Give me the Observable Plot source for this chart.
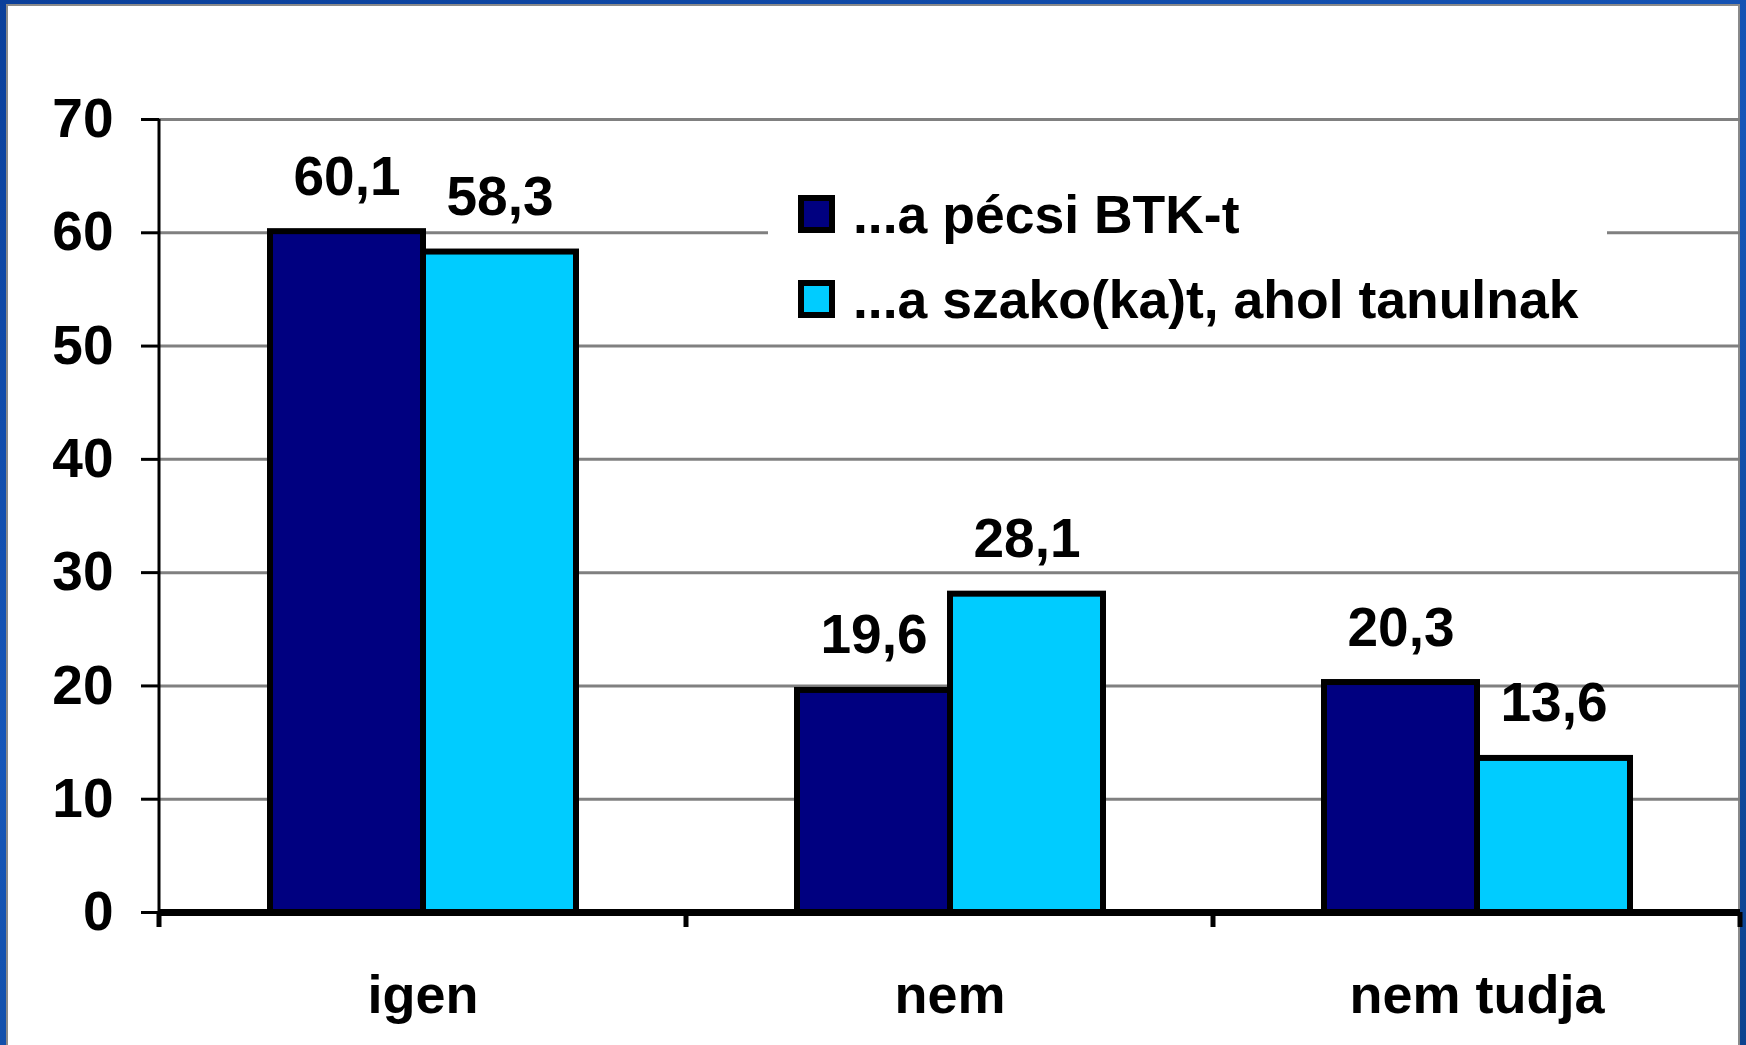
<!DOCTYPE html>
<html>
<head>
<meta charset="utf-8">
<script src="https://cdn.jsdelivr.net/npm/d3@7"></script>
<script src="https://cdn.jsdelivr.net/npm/@observablehq/plot@0.6"></script>
<style>
  html, body { margin: 0; padding: 0; width: 1746px; height: 1045px; overflow: hidden; }
  body { background: linear-gradient(160deg, #0a3f9a 0%, #1656b8 45%, #0c438f 100%); position: relative; font-family: "Liberation Sans", Arial, sans-serif; }
  #panel { position: absolute; left: 6px; top: 4px; width: 1734px; height: 1080px; background: #fff; border: 2px solid #8a8a8a; border-bottom: none; box-sizing: border-box; }
  #chart { position: absolute; left: 0; top: 0; }
  #legend { position: absolute; left: 768px; top: 160px; width: 839px; height: 172px; background: #fff; }
  .row { position: absolute; left: 0; height: 53px; }
  .sw { position: absolute; left: 30px; width: 37px; height: 38px; border: 6px solid #000; box-sizing: border-box; }
  .lt { position: absolute; left: 85px; white-space: nowrap; font: bold 53.5px/53px "Liberation Sans", Arial, sans-serif; color: #000; }
</style>
</head>
<body>
<div id="panel"></div>
<div id="chart"></div>
<div id="legend"></div>
<script>
const categories = ["igen", "nem", "nem tudja"];
const seriesNames = ["...a pécsi BTK-t", "...a szako(ka)t, ahol tanulnak"];
const btkValues = [60.1, 19.6, 20.3];
const szakValues = [58.3, 28.1, 13.6];
const seriesColors = ["#000080", "#00ccff"];
const yTicks = [0, 10, 20, 30, 40, 50, 60, 70];

const data = [];
categories.forEach((c, i) => {
  data.push({category: c, series: seriesNames[0], value: btkValues[i]});
  data.push({category: c, series: seriesNames[1], value: szakValues[i]});
});
const fmt = v => v.toFixed(1).replace(".", ",");

const plot = Plot.plot({
  width: 1746,
  height: 1045,
  marginLeft: 158,
  marginRight: 6,
  marginTop: 119,
  marginBottom: 133,
  style: {background: "transparent", fontFamily: "'Liberation Sans', Arial, sans-serif", fontWeight: "bold", color: "#000"},
  fx: {domain: categories, padding: 0, axis: null},
  x: {domain: seriesNames, paddingInner: 0, paddingOuter: 0.72, axis: null},
  y: {domain: [0, 70], axis: null},
  color: {domain: seriesNames, range: seriesColors},
  marks: [
    Plot.gridY(yTicks.filter(d => d > 0), {stroke: "#808080", strokeOpacity: 1, strokeWidth: 3}),
    Plot.barY(data, {fx: "category", x: "series", y: "value", fill: "series", stroke: "#000", strokeWidth: 6}),
    Plot.text(data, {fx: "category", x: "series", y: "value", text: d => fmt(d.value), lineAnchor: "bottom", dy: -37, fontSize: 55, fontWeight: "bold", fill: "#000"}),
    Plot.ruleY([0], {stroke: "#000", strokeWidth: 7}),
    Plot.axisY(yTicks, {tickSize: 18, tickPadding: 28, strokeWidth: 3, stroke: "#000", fontSize: 55, fontWeight: "bold", label: null, tickFormat: d => String(d)}),
    Plot.axisFx({anchor: "bottom", tickSize: 0, tickPadding: 62, fontSize: 54, fontWeight: "bold", label: null})
  ]
});
document.getElementById("chart").appendChild(plot);

// Axis line and category separators drawn from the plot's own scales
const fx = plot.scale("fx");
const ys = plot.scale("y");
const svg = d3.select(plot);
const edges = categories.map(c => fx.apply(c)).concat([fx.apply(categories[categories.length - 1]) + fx.bandwidth]);
const y0 = ys.apply(0), yTop = ys.apply(70);
const g = svg.append("g");
g.append("line").attr("x1", edges[0]).attr("x2", edges[0]).attr("y1", yTop).attr("y2", y0)
  .attr("stroke", "#000").attr("stroke-width", 3);
g.selectAll("line.sep").data(edges).join("line").attr("class", "sep")
  .attr("x1", d => d).attr("x2", d => d).attr("y1", y0).attr("y2", y0 + 15)
  .attr("stroke", "#000").attr("stroke-width", 5);

// Legend
const legend = document.getElementById("legend");
seriesNames.forEach((name, i) => {
  const row = document.createElement("div");
  row.className = "row";
  row.style.top = (i * 85) + "px";
  const sw = document.createElement("div");
  sw.className = "sw";
  sw.style.top = "35px";
  sw.style.background = seriesColors[i];
  const t = document.createElement("div");
  t.className = "lt";
  t.style.top = "28px";
  t.textContent = name;
  row.appendChild(sw);
  row.appendChild(t);
  legend.appendChild(row);
});
</script>
</body>
</html>
